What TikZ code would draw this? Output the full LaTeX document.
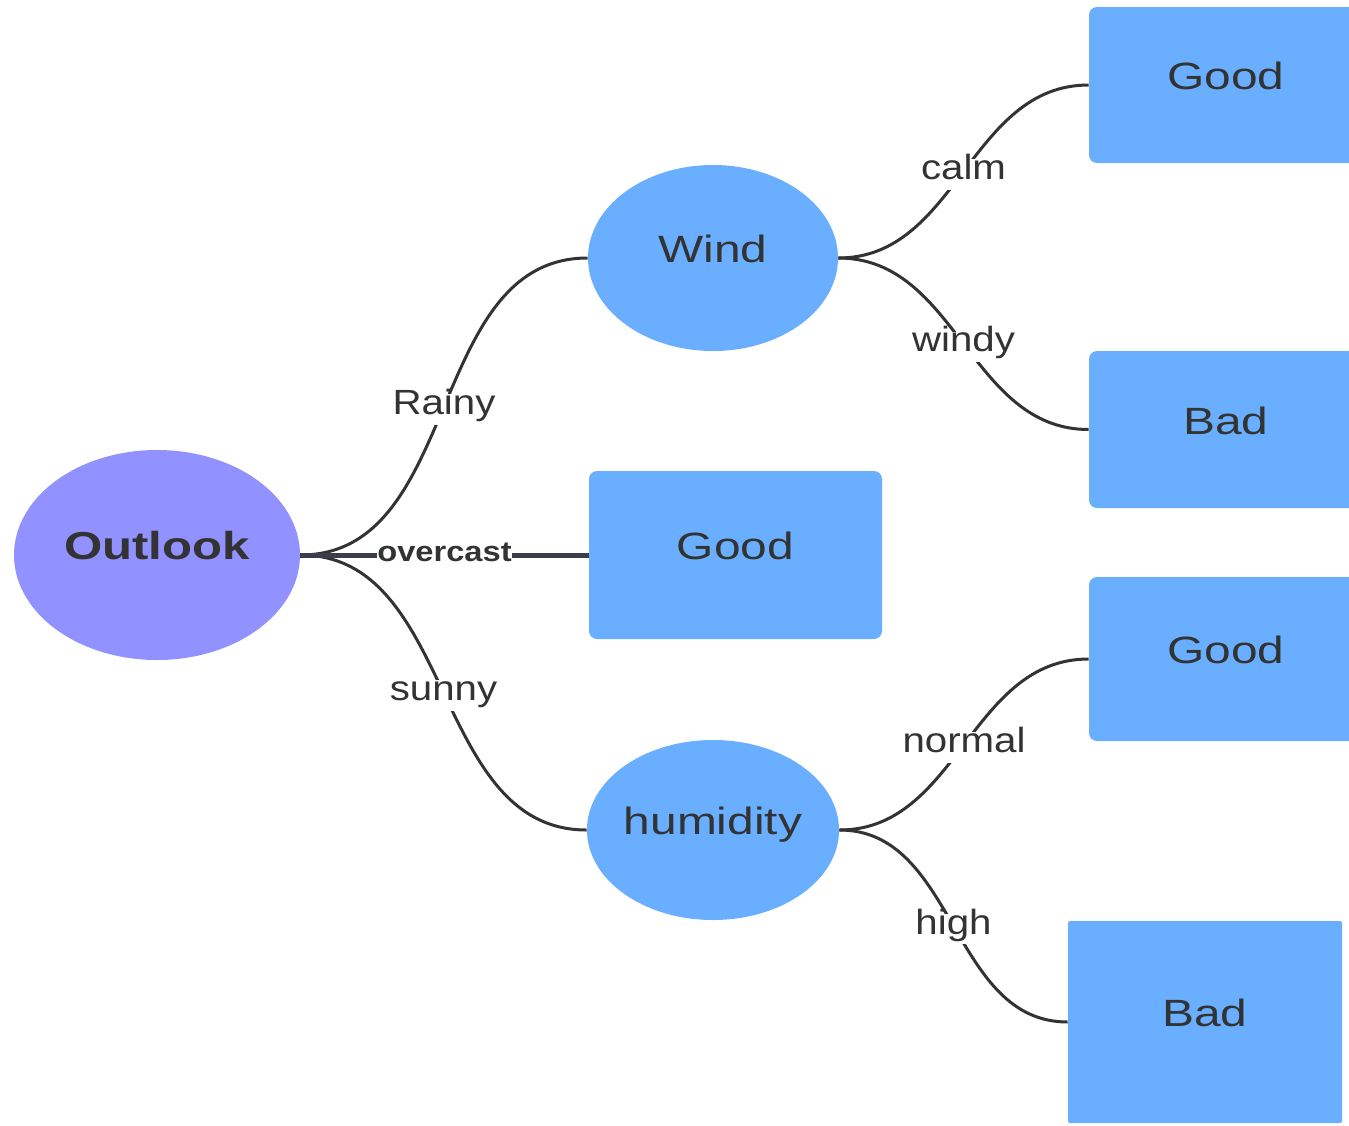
\documentclass[tikz,border=0pt]{standalone}
\usepackage{fontspec}
\setmainfont{Liberation Sans}[FakeStretch=1.26]
\newfontfamily\labfont{Liberation Sans}[FakeStretch=1.15]
\usetikzlibrary{shapes.geometric}
\definecolor{purp}{HTML}{9191FF}
\definecolor{blu}{HTML}{6AAFFF}
\definecolor{ink}{HTML}{333333}
\definecolor{ovl}{HTML}{3A3F4A}
\begin{document}
\begin{tikzpicture}[x=0.5pt,y=-0.5pt,
 ell/.style={ellipse, inner sep=0pt, text=ink, font=\fontsize{19}{23}\selectfont, text height=0.73em, text depth=0.26em},
 leaf/.style={rectangle, fill=blu, rounded corners=4pt, inner sep=0pt, text=ink, font=\fontsize{19}{23}\selectfont, text height=0.73em, text depth=0.26em},
 edge/.style={draw=ink, line width=1.5pt},
 lab/.style={fill=white, inner xsep=1.5pt, inner ysep=3pt, text=ink, font=\labfont\fontsize{17.5}{21}\selectfont, text height=0.72em, text depth=0.2em, yshift=-1.5pt}]
\useasboundingbox (0,0) rectangle (1349,1125);
\clip (0,0) rectangle (1349,1125);
% nodes
\node[ell, fill=purp, minimum width=143pt, minimum height=105pt, font=\fontsize{19.5}{23}\selectfont\bfseries] (outlook) at (157,555) {Outlook};
\node[ell, fill=blu, minimum width=125pt, minimum height=93pt] (wind) at (713,258) {Wind};
\node[ell, fill=blu, minimum width=125pt, minimum height=90pt] (hum) at (713,830) {humidity};
\node[leaf, minimum width=146.5pt, minimum height=84pt] (good2) at (735.5,555) {Good};
\node[leaf, minimum width=137pt, minimum height=78pt] (good1) at (1226,85) {Good};
\node[leaf, minimum width=137pt, minimum height=78.5pt] (bad1) at (1226,429.5) {Bad};
\node[leaf, minimum width=137pt, minimum height=82pt] (good3) at (1226,659) {Good};
\node[leaf, rounded corners=1pt, minimum width=137pt, minimum height=101pt] (bad2) at (1205,1022) {Bad};
% connectors
\draw[edge] (outlook.east) to[out=0,in=180] node[lab] {Rainy} (wind.west);
\draw[edge] (outlook.east) to[out=0,in=180] node[lab] {sunny} (hum.west);
\draw[line width=2.5pt, draw=ovl] (outlook.east) -- node[fill=white, inner sep=0pt, text=ink, font=\labfont\fontsize{14.2}{17}\selectfont\bfseries, yshift=1.5pt] {overcast} (good2.west);
\draw[edge] (wind.east) to[out=0,in=180] node[lab] {calm} (good1.west);
\draw[edge] (wind.east) to[out=0,in=180] node[lab] {windy} (bad1.west);
\draw[edge] (hum.east) to[out=0,in=180] node[lab] {normal} (good3.west);
\draw[edge] (hum.east) to[out=0,in=180] node[lab] {high} (bad2.west);
\end{tikzpicture}
\end{document}
